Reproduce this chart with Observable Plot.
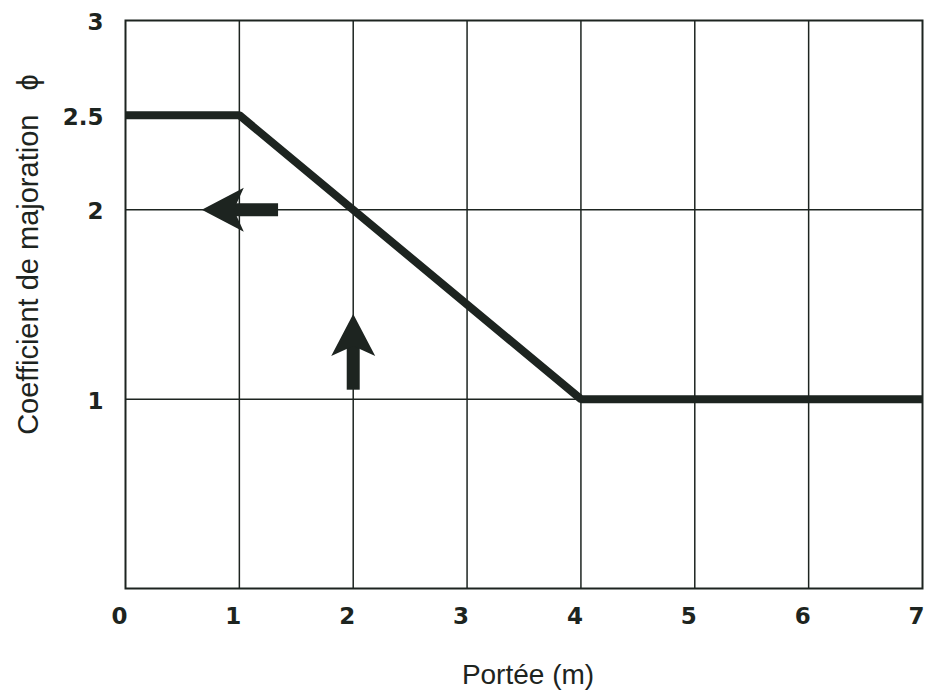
<!DOCTYPE html>
<html>
<head>
<meta charset="utf-8">
<script src="https://cdn.jsdelivr.net/npm/d3@7"></script>
<script src="https://cdn.jsdelivr.net/npm/@observablehq/plot@0.6"></script>
<style>
  html, body { margin: 0; padding: 0; background: #ffffff; }
</style>
</head>
<body>
<div id="chart"></div>
<script>
// Data
const xTicks = [0, 1, 2, 3, 4, 5, 6, 7];
const yTicks = [1, 2, 2.5, 3];
const xGrid = [1, 2, 3, 4, 5, 6];
const yGrid = [1, 2];
const porteeM = [0, 1, 4, 7];
const coefPhi = [2.5, 2.5, 1, 1];

// Annotation arrows (data coordinates)
const arrowTailX = [1.34, 2];
const arrowTailY = [2, 1.05];
const arrowNeckX = [0.94, 2];
const arrowNeckY = [2, 1.29];
const arrowTipX = [0.67, 2];
const arrowTipY = [2, 1.45];
const arrowRotate = [-90, 0];

const xLabel = "Portée (m)";
const yLabel = "Coefficient de majoration\u00a0\u00a0\u00a0ϕ";

const ink = "#1d2420";

const curve = porteeM.map((x, i) => ({x, y: coefPhi[i]}));
const arrows = arrowTipX.map((_, i) => ({
  x1: arrowTailX[i], y1: arrowTailY[i],
  x2: arrowNeckX[i], y2: arrowNeckY[i],
  tx: arrowTipX[i], ty: arrowTipY[i],
  rot: arrowRotate[i]
}));

const arrowHead = {
  draw(context) {
    context.moveTo(0, 0);
    context.lineTo(22, 42);
    context.lineTo(0, 32);
    context.lineTo(-22, 42);
    context.closePath();
  }
};

const tickFont = "'DejaVu Sans', 'Liberation Sans', Arial, sans-serif";

const chart = Plot.plot({
  width: 925,
  height: 691,
  marginTop: 20,
  marginRight: 3,
  marginBottom: 103,
  marginLeft: 125,
  style: {
    fontFamily: "'Liberation Sans', Arial, Helvetica, sans-serif",
    background: "#ffffff",
    color: ink
  },
  x: {domain: [0, 7]},
  y: {domain: [0, 3]},
  marks: [
    Plot.gridX(xGrid, {stroke: ink, strokeOpacity: 1, strokeWidth: 1.5}),
    Plot.gridY(yGrid, {stroke: ink, strokeOpacity: 1, strokeWidth: 1.5}),
    Plot.frame({stroke: ink, strokeWidth: 2}),
    Plot.axisX(xTicks, {
      tickSize: 0, tickPadding: 19, fontSize: 23, fontWeight: "bold", fontFamily: tickFont,
      fill: ink, dx: -6, label: null, tickFormat: d => String(d)
    }),
    Plot.axisY(yTicks, {
      tickSize: 0, tickPadding: 22, fontSize: 23, fontWeight: "bold", fontFamily: tickFont,
      fill: ink, dy: 2, label: null, tickFormat: d => String(d)
    }),
    Plot.line(curve, {x: "x", y: "y", stroke: ink, strokeWidth: 8, strokeLinejoin: "miter", strokeLinecap: "butt"}),
    Plot.link(arrows, {x1: "x1", y1: "y1", x2: "x2", y2: "y2", stroke: ink, strokeWidth: 13, strokeLinecap: "butt"}),
    Plot.dot(arrows, {x: "tx", y: "ty", rotate: "rot", symbol: arrowHead, fill: ink, stroke: "none"}),
    Plot.text([xLabel], {frameAnchor: "bottom", text: d => d, dy: 87, dx: 4, fontSize: 28, fill: ink, lineAnchor: "middle"}),
    Plot.text([yLabel], {frameAnchor: "left", text: d => d, rotate: -90, dx: -97, dy: -50, fontSize: 29, fill: ink, lineAnchor: "middle", textAnchor: "middle"})
  ]
});

document.getElementById("chart").appendChild(chart);
</script>
</body>
</html>
